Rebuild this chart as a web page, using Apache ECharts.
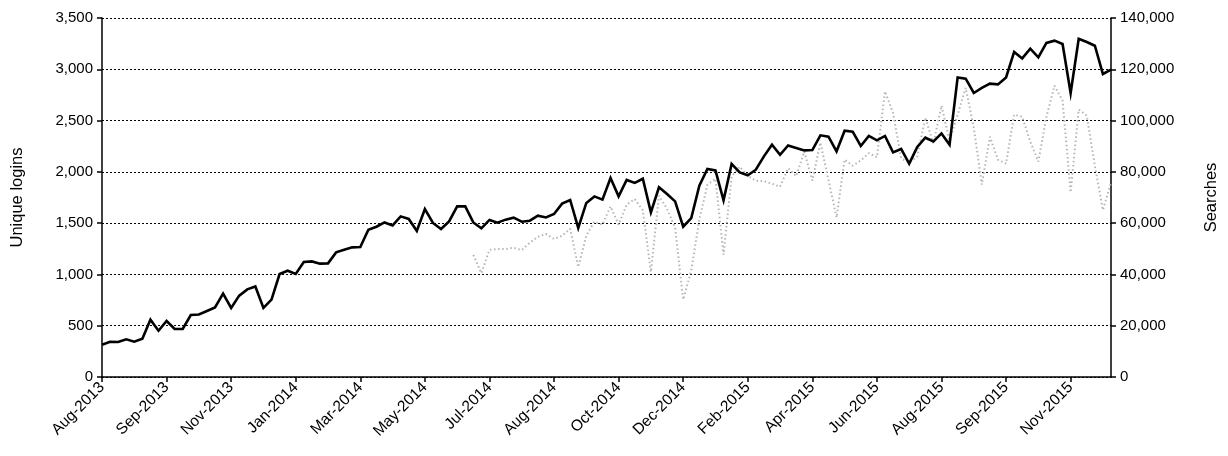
<!DOCTYPE html>
<html>
<head>
<meta charset="utf-8">
<script src="https://cdn.jsdelivr.net/npm/echarts@6/dist/echarts.min.js"></script>
<style>
html,body{margin:0;padding:0;background:#fff;}
#chart{width:1228px;height:456px;}
</style>
</head>
<body>
<div id="chart"></div>
<script>
const weeks = [
'2013-08-04','2013-08-11','2013-08-18','2013-08-25','2013-09-01','2013-09-08','2013-09-15','2013-09-22','2013-09-29',
'2013-10-06','2013-10-13','2013-10-20','2013-10-27','2013-11-03','2013-11-10','2013-11-17','2013-11-24',
'2013-12-01','2013-12-08','2013-12-15','2013-12-22','2013-12-29',
'2014-01-05','2014-01-12','2014-01-19','2014-01-26','2014-02-02','2014-02-09','2014-02-16','2014-02-23',
'2014-03-02','2014-03-09','2014-03-16','2014-03-23','2014-03-30','2014-04-06','2014-04-13','2014-04-20','2014-04-27',
'2014-05-04','2014-05-11','2014-05-18','2014-05-25','2014-06-01','2014-06-08','2014-06-15','2014-06-22','2014-06-29',
'2014-07-06','2014-07-13','2014-07-20','2014-07-27','2014-08-03','2014-08-10','2014-08-17','2014-08-24','2014-08-31',
'2014-09-07','2014-09-14','2014-09-21','2014-09-28','2014-10-05','2014-10-12','2014-10-19','2014-10-26',
'2014-11-02','2014-11-09','2014-11-16','2014-11-23','2014-11-30','2014-12-07','2014-12-14','2014-12-21','2014-12-28',
'2015-01-04','2015-01-11','2015-01-18','2015-01-25','2015-02-01','2015-02-08','2015-02-15','2015-02-22',
'2015-03-01','2015-03-08','2015-03-15','2015-03-22','2015-03-29','2015-04-05','2015-04-12','2015-04-19','2015-04-26',
'2015-05-03','2015-05-10','2015-05-17','2015-05-24','2015-05-31','2015-06-07','2015-06-14','2015-06-21','2015-06-28',
'2015-07-05','2015-07-12','2015-07-19','2015-07-26','2015-08-02','2015-08-09','2015-08-16','2015-08-23','2015-08-30',
'2015-09-06','2015-09-13','2015-09-20','2015-09-27','2015-10-04','2015-10-11','2015-10-18','2015-10-25',
'2015-11-01','2015-11-08','2015-11-15','2015-11-22','2015-11-29','2015-12-06','2015-12-13','2015-12-20','2015-12-27'
];

const uniqueLogins = [
315,344,341,367,344,373,559,451,546,468,468,604,610,643,678,812,673,793,854,883,
673,754,1004,1036,1004,1121,1127,1105,1108,1215,1241,1264,1268,1436,1465,1507,1478,1566,1541,1424,
1638,1502,1443,1517,1663,1663,1507,1449,1531,1504,1534,1553,1514,1524,1573,1556,1589,1690,1726,1453,
1697,1761,1729,1940,1761,1921,1892,1933,1605,1849,1784,1712,1465,1550,1865,2028,2014,1722,2077,1995,
1966,2021,2151,2265,2167,2258,2233,2209,2213,2356,2343,2200,2401,2392,2252,2350,2307,2350,2190,2223,
2080,2243,2333,2297,2375,2265,2921,2908,2769,2818,2860,2853,2921,3169,3106,3201,3116,3257,3279,3247,
2769,3298,3266,3230,2954,2996
];

const searches = [
null,null,null,null,null,null,null,null,null,null,null,null,null,null,null,null,null,null,null,null,
null,null,null,null,null,null,null,null,null,null,null,null,null,null,null,null,null,null,null,null,
null,null,null,null,null,null,
47600,40500,49600,49900,49900,50400,49500,52400,54700,55800,53800,55100,57800,42900,
55100,60600,59400,66500,59400,67200,69400,65000,41000,70700,65600,58200,30200,41500,61300,75000,77300,47700,78100,82000,
78500,76500,76400,75400,74200,81400,78300,87900,76600,91400,76900,62200,84800,82400,84400,87300,85700,111400,103000,85300,
83600,86000,101100,91000,105800,92000,102300,112800,97200,75000,93700,84700,83200,102300,101500,91800,84000,101500,113600,107800,
72000,104300,101900,82400,65100,75800
];

const leftTicks = {min: 0, max: 3500, interval: 500};
const rightTicks = {min: 0, max: 140000, interval: 20000};
const monthNames = ['Jan','Feb','Mar','Apr','May','Jun','Jul','Aug','Sep','Oct','Nov','Dec'];

function monthLabel(d) {
  const p = d.split('-');
  return monthNames[parseInt(p[1], 10) - 1] + '-' + p[0];
}
function withCommas(v) { return Number(v).toLocaleString('en-US'); }

const FONT = 'Liberation Sans, Arial, sans-serif';
const chart = echarts.init(document.getElementById('chart'), null, {renderer: 'canvas'});
chart.setOption({
  animation: false,
  backgroundColor: '#fff',
  grid: {left: 102, right: 116, top: 18, bottom: 79, containLabel: false},
  xAxis: {
    type: 'category',
    data: weeks,
    boundaryGap: false,
    axisLine: {lineStyle: {color: '#000', width: 1.5}},
    axisTick: {show: true, interval: 7, length: 5, lineStyle: {color: '#000', width: 1.5}},
    axisLabel: {
      interval: 7, rotate: 45, color: '#000', fontSize: 15.5, fontFamily: FONT, margin: 8,
      formatter: monthLabel
    },
    splitLine: {show: false}
  },
  yAxis: [
    {
      type: 'value', position: 'left',
      min: leftTicks.min, max: leftTicks.max, interval: leftTicks.interval,
      name: 'Unique logins', nameLocation: 'middle', nameGap: 76, nameRotate: 90,
      nameTextStyle: {color: '#000', fontSize: 16.5, fontFamily: FONT},
      axisLine: {show: true, lineStyle: {color: '#000', width: 1.5}},
      axisTick: {show: true, length: 5, lineStyle: {color: '#000', width: 1.5}},
      axisLabel: {color: '#000', fontSize: 15, fontFamily: FONT, margin: 9, formatter: withCommas},
      splitLine: {show: true, lineStyle: {color: '#000', width: 1, type: [2, 2]}}
    },
    {
      type: 'value', position: 'right',
      min: rightTicks.min, max: rightTicks.max, interval: rightTicks.interval,
      name: 'Searches', nameLocation: 'middle', nameGap: 92, nameRotate: 90,
      nameTextStyle: {color: '#000', fontSize: 16.5, fontFamily: FONT},
      axisLine: {show: true, lineStyle: {color: '#000', width: 1.5}},
      axisTick: {show: true, length: 5, lineStyle: {color: '#000', width: 1.5}},
      axisLabel: {color: '#000', fontSize: 15, fontFamily: FONT, margin: 9, formatter: withCommas},
      splitLine: {show: false}
    }
  ],
  series: [
    {
      name: 'Searches', type: 'line', yAxisIndex: 1, data: searches,
      showSymbol: false, symbol: 'none', connectNulls: false,
      lineStyle: {color: '#b5b5b5', width: 2, type: [1.5, 2.6]}, z: 2
    },
    {
      name: 'Unique logins', type: 'line', yAxisIndex: 0, data: uniqueLogins,
      showSymbol: false, symbol: 'none',
      lineStyle: {color: '#000', width: 2.6, join: 'miter'}, z: 3
    }
  ]
});
</script>
</body>
</html>
